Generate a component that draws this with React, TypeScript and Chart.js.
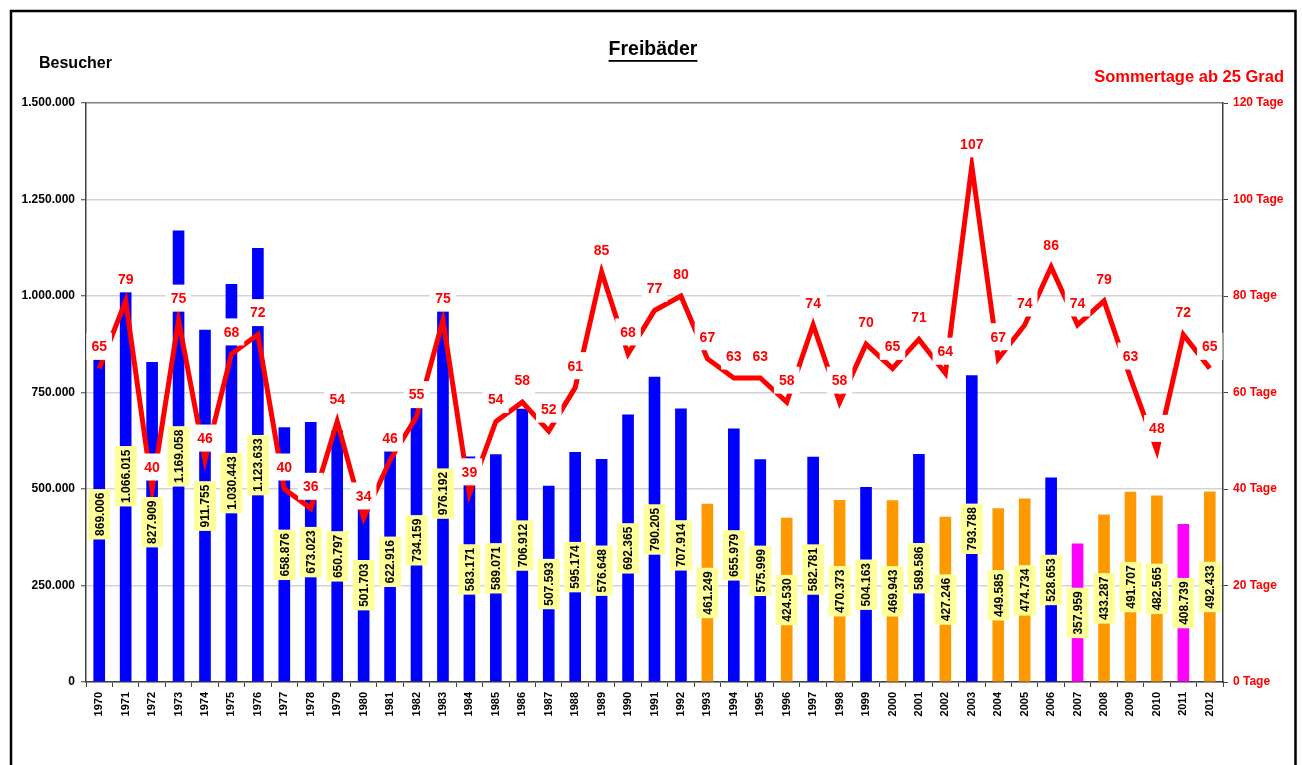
import React, { useEffect, useRef } from 'react';
import { Chart, registerables } from 'chart.js';

Chart.register(...registerables);

const years = [
  '1970', '1971', '1972', '1973', '1974', '1975', '1976', '1977', '1978', '1979',
  '1980', '1981', '1982', '1983', '1984', '1985', '1986', '1987', '1988', '1989',
  '1990', '1991', '1992', '1993', '1994', '1995', '1996', '1997', '1998', '1999',
  '2000', '2001', '2002', '2003', '2004', '2005', '2006', '2007', '2008', '2009',
  '2010', '2011', '2012',
];

const visitors = [
  869006, 1066015, 827909, 1169058, 911755, 1030443, 1123633, 658876, 673023, 650797,
  501703, 622916, 734159, 976192, 583171, 589071, 706912, 507593, 595174, 576648,
  692365, 790205, 707914, 461249, 655979, 575999, 424530, 582781, 470373, 504163,
  469943, 589586, 427246, 793788, 449585, 474734, 528653, 357959, 433287, 491707,
  482565, 408739, 492433,
];

const summerDays = [
  65, 79, 40, 75, 46, 68, 72, 40, 36, 54,
  34, 46, 55, 75, 39, 54, 58, 52, 61, 85,
  68, 77, 80, 67, 63, 63, 58, 74, 58, 70,
  65, 71, 64, 107, 67, 74, 86, 74, 79, 63,
  48, 72, 65,
];

// 0 = blue group, 1 = orange group, 2 = magenta group
const barGroup = [
  0, 0, 0, 0, 0, 0, 0, 0, 0, 0,
  0, 0, 0, 0, 0, 0, 0, 0, 0, 0,
  0, 0, 0, 1, 0, 0, 1, 0, 1, 0,
  1, 0, 1, 0, 1, 1, 0, 2, 1, 1,
  1, 2, 1,
];

const groupColors = ['#0000FF', '#FF9900', '#FF00FF'];

const FONT = 'Arial, "Liberation Sans", sans-serif';

function fmt(v: number): string {
  return String(Math.round(v)).replace(/\B(?=(\d{3})+(?!\d))/g, '.');
}

const decorPlugin = {
  id: 'decor',
  beforeDraw(chart: any) {
    const ctx = chart.ctx;
    ctx.save();
    ctx.fillStyle = '#FFFFFF';
    ctx.fillRect(0, 0, chart.width, chart.height);
    ctx.restore();
  },
  afterDatasetsDraw(chart: any) {
    const ctx = chart.ctx;
    const barMeta = chart.getDatasetMeta(0);
    const lineMeta = chart.getDatasetMeta(1);
    const ys = chart.scales.y;
    ctx.save();
    ctx.font = 'bold 12px ' + FONT;
    ctx.textAlign = 'center';
    ctx.textBaseline = 'middle';
    barMeta.data.forEach((el: any, i: number) => {
      const v = visitors[i];
      const text = fmt(v);
      const cx = el.x;
      const cy = (ys.getPixelForValue(v) + ys.getPixelForValue(0)) / 2;
      const tw = ctx.measureText(text).width;
      ctx.save();
      ctx.translate(cx, cy);
      ctx.rotate(-Math.PI / 2);
      ctx.fillStyle = '#FFFF99';
      ctx.fillRect(-tw / 2 - 3.5, -11, tw + 7, 22);
      ctx.fillStyle = '#000000';
      ctx.fillText(text, 0, 1);
      ctx.restore();
    });
    ctx.font = 'bold 14px ' + FONT;
    lineMeta.data.forEach((pt: any, i: number) => {
      const text = String(summerDays[i]);
      const tx = pt.x;
      const ty = pt.y - 22;
      const tw = ctx.measureText(text).width;
      ctx.fillStyle = '#FFFFFF';
      ctx.fillRect(tx - tw / 2 - 5, ty - 13.5, tw + 10, 27);
      ctx.fillStyle = '#FF0000';
      ctx.fillText(text, tx, ty + 1);
    });
    ctx.restore();
  },
  afterDraw(chart: any) {
    const ctx = chart.ctx;
    ctx.save();
    // frame
    ctx.strokeStyle = '#000000';
    ctx.lineWidth = 2.5;
    ctx.strokeRect(11, 11, 1284.5, 800);
    // title
    ctx.fillStyle = '#000000';
    ctx.font = 'bold 19.5px ' + FONT;
    ctx.textAlign = 'center';
    ctx.textBaseline = 'middle';
    const title = 'Freibäder';
    ctx.fillText(title, 653, 50);
    const tw = ctx.measureText(title).width;
    ctx.fillRect(653 - tw / 2, 60, tw, 1.8);
    // left axis title
    ctx.font = 'bold 16px ' + FONT;
    ctx.textAlign = 'left';
    ctx.fillText('Besucher', 39, 64);
    // right axis title
    ctx.fillStyle = '#FF0000';
    ctx.font = 'bold 16.5px ' + FONT;
    ctx.textAlign = 'right';
    ctx.fillText('Sommertage ab 25 Grad', 1284, 77);
    ctx.restore();
  },
};

export default function App() {
  const canvasRef = useRef<HTMLCanvasElement | null>(null);

  useEffect(() => {
    if (!canvasRef.current) return;
    const chart = new Chart(canvasRef.current, {
      type: 'bar',
      data: {
        labels: years,
        datasets: [
          {
            type: 'bar',
            label: 'Besucher',
            data: visitors,
            backgroundColor: barGroup.map((g) => groupColors[g]),
            borderWidth: 0,
            barThickness: 11,
            yAxisID: 'y',
            order: 2,
          },
          {
            type: 'line',
            label: 'Sommertage',
            data: summerDays,
            borderColor: '#FF0000',
            borderWidth: 5,
            pointRadius: 0,
            tension: 0,
            fill: false,
            yAxisID: 'y1',
            order: 1,
          } as any,
        ],
      },
      options: {
        responsive: false,
        animation: false,
        devicePixelRatio: 1,
        layout: { padding: { top: 103, left: 0, right: 0, bottom: 0 } },
        plugins: {
          legend: { display: false },
          tooltip: { enabled: false },
          title: { display: false },
        },
        scales: {
          x: {
            type: 'category',
            offset: true,
            grid: {
              display: true,
              offset: true,
              drawOnChartArea: false,
              drawTicks: true,
              tickLength: 5,
              tickColor: '#404040',
              tickWidth: 1,
            },
            border: { color: '#404040', width: 1.5 },
            ticks: {
              autoSkip: false,
              minRotation: 90,
              maxRotation: 90,
              padding: 5,
              color: '#000000',
              font: { family: FONT, size: 11, weight: 'bold' },
            },
            afterFit(scale: any) {
              scale.height = 83;
            },
          },
          y: {
            position: 'left',
            min: 0,
            max: 1500000,
            ticks: {
              stepSize: 250000,
              padding: 6,
              color: '#000000',
              font: { family: FONT, size: 12, weight: 'bold' },
              callback: (v: any) => fmt(Number(v)),
            },
            grid: {
              color: (c: any) => (c.tick && c.tick.value === 1500000 ? '#808080' : '#D4D4D4'),
              lineWidth: 1.5,
              tickLength: 5,
              tickColor: '#404040',
              tickWidth: 1,
            },
            border: { color: '#404040', width: 1.5 },
            afterFit(scale: any) {
              scale.width = 86;
            },
          },
          y1: {
            position: 'right',
            min: 0,
            max: 120,
            ticks: {
              stepSize: 20,
              padding: 5,
              color: '#FF0000',
              font: { family: FONT, size: 12, weight: 'bold' },
              callback: (v: any) => v + ' Tage',
            },
            grid: {
              drawOnChartArea: false,
              tickLength: 5,
              tickColor: '#404040',
              tickWidth: 1,
            },
            border: { color: '#404040', width: 1.5 },
            afterFit(scale: any) {
              scale.width = 79;
            },
          },
        },
      } as any,
      plugins: [decorPlugin],
    });
    return () => chart.destroy();
  }, []);

  return (
    <div style={{ position: 'absolute', left: 0, top: 0, width: 1302, height: 765, background: '#fff' }}>
      <canvas ref={canvasRef} width={1302} height={765} style={{ width: 1302, height: 765, display: 'block' }} />
    </div>
  );
}
